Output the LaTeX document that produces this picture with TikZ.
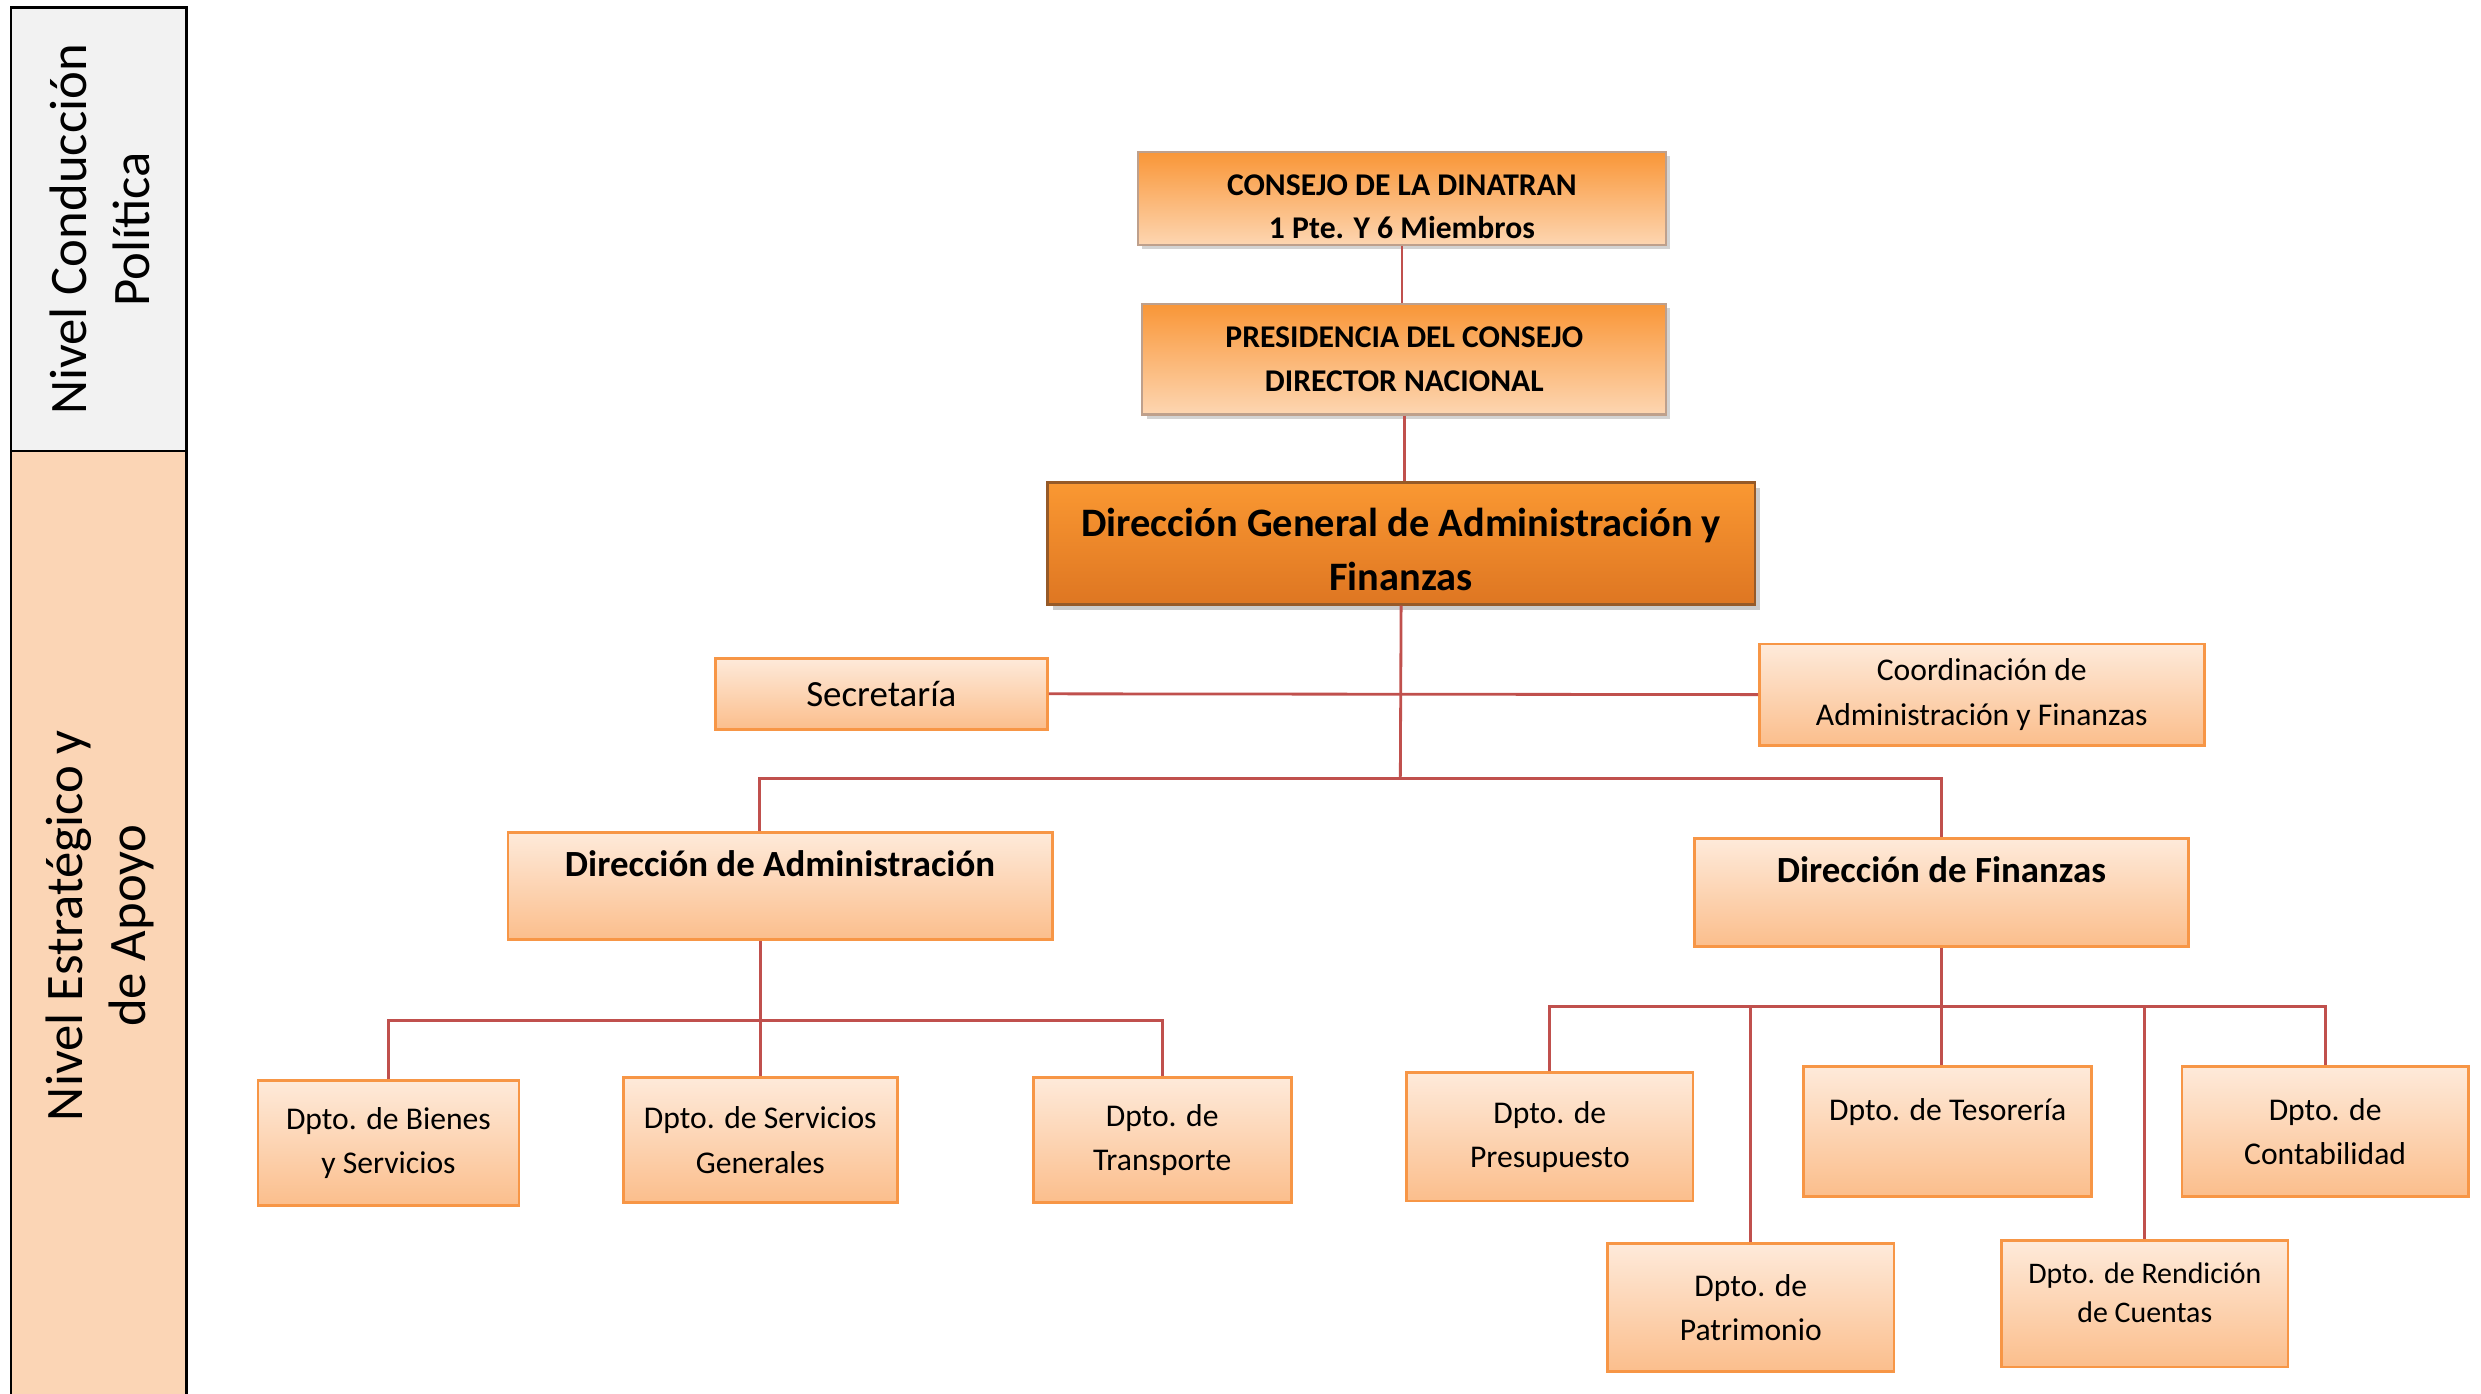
\documentclass[tikz,border=0pt]{standalone}
\usepackage{fontspec}
\setmainfont{Carlito}
\usetikzlibrary{shadows}

\definecolor{linkred}{RGB}{192,80,77}
\definecolor{deptline}{RGB}{247,150,70}
\definecolor{depttop}{RGB}{254,234,218}
\definecolor{deptbot}{RGB}{251,190,140}
\definecolor{headtop}{RGB}{249,150,55}
\definecolor{headbot}{RGB}{253,214,178}
\definecolor{headline}{RGB}{190,160,140}
\definecolor{chieftop}{RGB}{250,152,50}
\definecolor{chiefbot}{RGB}{222,118,34}
\definecolor{chiefline}{RGB}{150,90,40}
\definecolor{bandgray}{RGB}{242,242,242}
\definecolor{bandpeach}{RGB}{251,213,181}

\def\pxu{0.15823mm}

\tikzset{
	boxsize/.style 2 args={minimum width=#1*\pxu, minimum height=#2*\pxu},
	link/.style={draw=linkred, line width=0.8pt},
	headbox/.style={draw=headline, line width=0.6pt, top color=headtop, bottom color=headbot,
		align=center, inner sep=0pt, font=\bfseries\fontsize{9}{12.4}\selectfont,
		drop shadow={shadow xshift=1.2pt, shadow yshift=-1.2pt, opacity=0.35}},
	chiefbox/.style={draw=chiefline, line width=0.7pt, top color=chieftop, bottom color=chiefbot,
		align=center, inner sep=0pt, font=\bfseries\fontsize{11.5}{15.3}\selectfont,
		drop shadow={shadow xshift=1.5pt, shadow yshift=-1.5pt, opacity=0.4}},
	deptbox/.style={draw=deptline, line width=0.8pt, top color=depttop, bottom color=deptbot,
		align=center, inner sep=0pt, font=\fontsize{9}{12.6}\selectfont},
	levellabel/.style={rotate=90, align=center, font=\fontsize{15}{18}\selectfont}
}

\begin{document}
\begin{tikzpicture}[x=\pxu, y=-\pxu]
	%%%%% START %%%%%
	
	\clip (0,0) rectangle (1568,881);
	
	% levels band
	\fill[bandgray] (7,5) rectangle (118,285);
	\fill[bandpeach] (7,285) rectangle (118,900);
	\draw[line width=0.8pt] (7,900) -- (7,5) -- (118,5) -- (118,900);
	\draw[line width=0.8pt] (7,285) -- (118,285);
	\node[levellabel] (lvlpol) at (63,145) {Nivel Conducción\\Política};
	\node[levellabel] (lvlest) at (63,585) {Nivel Estratégico y\\de Apoyo};
	
	% top
	\node[headbox, boxsize={334}{59}] (consejo) at (886,125.5) {\rule{0pt}{10.5pt}CONSEJO DE LA DINATRAN\\1 Pte. Y 6 Miembros};
	\node[headbox, boxsize={331}{70}] (presid) at (887.5,227) {PRESIDENCIA DEL CONSEJO\\DIRECTOR NACIONAL};
	\node[chiefbox, boxsize={447}{77}] (dgaf) at (885.5,343.5) {\rule{0pt}{11.5pt}Dirección General de Administración y\\Finanzas};
	
	\node[deptbox, boxsize={210}{45}, font=\fontsize{10.5}{13}\selectfont] (secret) at (557,438.5) {Secretaría};
	\node[deptbox, boxsize={281}{64}] (coord) at (1252.5,439) {Coordinación de\\Administración y Finanzas};
	
	\node[deptbox, boxsize={344}{68}, font=\bfseries\fontsize{10.5}{13}\selectfont] (diradm) at (493,560) {Dirección de Administración\\~};
	\node[deptbox, boxsize={312}{68}, font=\bfseries\fontsize{10.5}{13}\selectfont] (dirfin) at (1227,564) {Dirección de Finanzas\\~};
	
	% administracion
	\node[deptbox, boxsize={165}{79}] (bienes) at (245.5,722.5) {Dpto. de Bienes\\y Servicios};
	\node[deptbox, boxsize={173}{79}] (servgen) at (480.5,720.5) {Dpto. de Servicios\\Generales};
	\node[deptbox, boxsize={163}{79}] (transp) at (734.5,720.5) {Dpto. de\\Transporte};
	
	% finanzas
	\node[deptbox, boxsize={181}{81}] (presup) at (979.5,718.5) {Dpto. de\\Presupuesto};
	\node[deptbox, boxsize={182}{82}] (tesor) at (1231,715) {Dpto. de Tesorería\\~};
	\node[deptbox, boxsize={181}{82}] (contab) at (1469.5,715) {Dpto. de\\Contabilidad};
	\node[deptbox, boxsize={181}{81}] (patrim) at (1106.5,826.5) {Dpto. de\\Patrimonio};
	\node[deptbox, boxsize={181}{80}, font=\fontsize{8.5}{11.2}\selectfont] (rendic) at (1355.5,824) {Dpto. de Rendición\\de Cuentas\\[-5pt]\mbox{}};
	
	% lines
	\coordinate (jdir) at (885,492);
	\coordinate (jadm) at (480,645);
	\coordinate (jfin) at (1227,636);
	
	\draw[link] (consejo.south) -- (consejo.south |- presid.north);
	\draw[link] (presid.south) -- (presid.south |- dgaf.north);
	\draw[link] (dgaf.south) -- (jdir);
	\draw[link] (secret.east) -- (coord.west);
	\draw[link] (480,0 |- diradm.north) |- (jdir) -| (dirfin.north);
	
	\draw[link] (diradm.south -| servgen.north) -- (servgen.north);
	\draw[link] (bienes.north) |- (jadm) -| (transp.north);
	
	\draw[link] (dirfin.south) -- (dirfin.south |- tesor.north);
	\draw[link] (presup.north) |- (jfin) -| (contab.north);
	\draw[link] (patrim.north) -- (patrim.north |- jfin);
	\draw[link] (rendic.north) -- (rendic.north |- jfin);
	
	%%%%% END %%%%%
\end{tikzpicture}
\end{document}
